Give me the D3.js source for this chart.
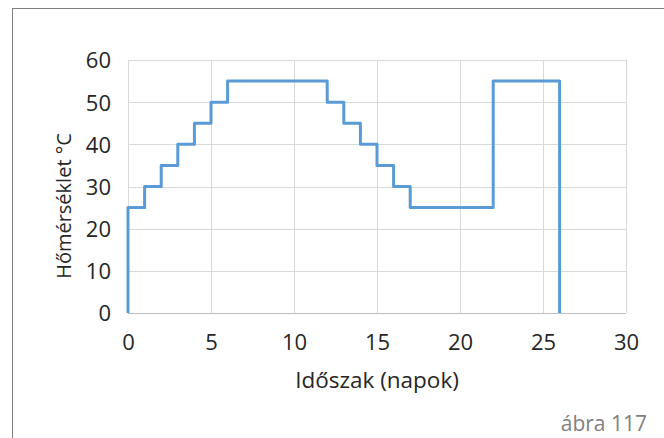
<!DOCTYPE html>
<html><head><meta charset="utf-8">
<script src="https://cdn.jsdelivr.net/npm/d3@7"></script>
<style>body{margin:0;background:#fff}svg{display:block}</style>
</head><body>
<script>
const days  = [0, 0, 1, 2, 3, 4, 5, 6, 12, 13, 14, 15, 16, 17, 22, 26];
const temps = [0, 25, 30, 35, 40, 45, 50, 55, 50, 45, 40, 35, 30, 25, 55, 0];
const xTicks = [0, 5, 10, 15, 20, 25, 30];
const yTicks = [0, 10, 20, 30, 40, 50, 60];
const xTitle = "Időszak (napok)";
const yTitle = "Hőmérséklet °C";
const caption = "ábra 117";

const W = 664, H = 438;
const font = "'Open Sans', 'Noto Sans', sans-serif";
const svg = d3.select("body").append("svg").attr("width", W).attr("height", H);

svg.append("rect").attr("x", 12.5).attr("y", 8.5).attr("width", 700).attr("height", 500)
  .attr("fill", "none").attr("stroke", "#808080").attr("stroke-width", 1);

const x = d3.scaleLinear().domain([0, 30]).range([128, 626]);
const y = d3.scaleLinear().domain([0, 60]).range([313, 60]);

const g = svg.append("g");
g.selectAll(".vg").data(xTicks).join("line")
  .attr("x1", d => Math.round(x(d)) + 0.5).attr("x2", d => Math.round(x(d)) + 0.5)
  .attr("y1", y(60)).attr("y2", y(0)).attr("stroke", "#d9d9d9").attr("stroke-width", 1);
g.selectAll(".hg").data(yTicks).join("line")
  .attr("x1", x(0)).attr("x2", x(30))
  .attr("y1", d => Math.round(y(d)) + 0.5).attr("y2", d => Math.round(y(d)) + 0.5)
  .attr("stroke", d => d === 0 ? "#bfbfbf" : "#d9d9d9").attr("stroke-width", 1);

const xAxis = d3.axisBottom(x).tickValues(xTicks).tickSize(0).tickPadding(0);
const gx = svg.append("g").attr("transform", `translate(0,${y(0)})`).call(xAxis);
gx.select(".domain").remove();
gx.selectAll("text").attr("y", 37).attr("dy", 0).attr("font-family", font).attr("font-size", 22).attr("fill", "#262626");

const yAxis = d3.axisLeft(y).tickValues(yTicks).tickSize(0).tickPadding(0);
const gy = svg.append("g").attr("transform", `translate(${x(0)},0)`).call(yAxis);
gy.select(".domain").remove();
gy.selectAll("text").attr("x", -17).attr("dy", "0.36em").attr("font-family", font).attr("font-size", 22).attr("fill", "#262626");

const pts = days.map((d, i) => [d, temps[i]]);
const line = d3.line().x(d => x(d[0])).y(d => y(d[1])).curve(d3.curveStepAfter);
svg.append("path").datum(pts).attr("d", line).attr("fill", "none")
  .attr("stroke", "#5b9bd5").attr("stroke-width", 3).attr("stroke-linejoin", "round");

svg.append("text").attr("x", 377).attr("y", 388).attr("text-anchor", "middle")
  .attr("font-family", font).attr("font-size", 22.5).attr("fill", "#262626").text(xTitle);
svg.append("text").attr("transform", `translate(71,206) rotate(-90)`)
  .attr("text-anchor", "middle").attr("font-family", font).attr("font-size", 20).attr("fill", "#262626").text(yTitle);
svg.append("text").attr("x", 647).attr("y", 431).attr("text-anchor", "end")
  .attr("font-family", font).attr("font-size", 21).attr("fill", "#808080").text(caption);
</script>
</body></html>
